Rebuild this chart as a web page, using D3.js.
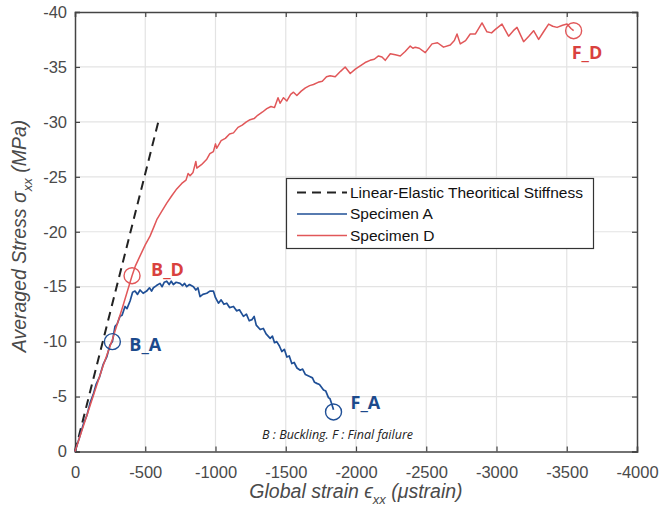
<!DOCTYPE html>
<html><head><meta charset="utf-8">
<script src="https://cdn.jsdelivr.net/npm/d3@7"></script>
<style>body{margin:0;background:#fff}</style>
</head><body>
<svg id="c" width="661" height="518"></svg>
<script>
const xTicks = [0,-500,-1000,-1500,-2000,-2500,-3000,-3500,-4000];
const yTicks = [0,-5,-10,-15,-20,-25,-30,-35,-40];
const linearElastic = [[0,0],[-593,-30]];
const specimenA = [[0,0],[-30,-1.2],[-60,-2.5],[-85,-3.3],[-107,-4.4],[-130,-5.2],[-150,-6.1],[-175,-6.8],[-200,-7.9],[-226,-8.6],[-249,-9.7],[-266,-10.0],[-285,-11.4],[-300,-11.6],[-320,-12.3],[-335,-12.4],[-356,-13.2],[-370,-13.0],[-392,-13.7],[-410,-14.5],[-427,-14.6],[-445,-14.3],[-463,-14.7],[-485,-14.4],[-510,-14.6],[-530,-14.9],[-545,-14.6],[-558,-14.9],[-580,-15.1],[-605,-15.3],[-620,-15.0],[-635,-15.4],[-653,-15.5],[-670,-15.2],[-685,-15.5],[-700,-15.2],[-720,-15.4],[-748,-15.3],[-765,-15.1],[-780,-15.3],[-795,-15.0],[-815,-15.2],[-843,-15.0],[-860,-14.7],[-875,-14.9],[-890,-14.1],[-910,-14.3],[-938,-14.4],[-960,-14.6],[-985,-14.6],[-1000,-14.0],[-1021,-13.5],[-1040,-13.8],[-1060,-13.4],[-1080,-13.5],[-1100,-13.1],[-1128,-13.2],[-1150,-12.8],[-1170,-12.9],[-1199,-12.3],[-1220,-12.5],[-1240,-11.9],[-1259,-12.0],[-1275,-12.3],[-1290,-11.5],[-1318,-11.1],[-1340,-11.2],[-1360,-10.7],[-1389,-10.3],[-1405,-10.5],[-1420,-9.9],[-1436,-10.0],[-1455,-9.6],[-1472,-9.1],[-1490,-9.3],[-1508,-8.6],[-1525,-8.7],[-1543,-8.0],[-1560,-8.1],[-1580,-7.6],[-1603,-7.4],[-1620,-7.5],[-1640,-7.0],[-1674,-6.8],[-1690,-6.7],[-1705,-6.3],[-1721,-6.2],[-1740,-6.1],[-1769,-5.6],[-1785,-5.5],[-1804,-4.9],[-1815,-4.8],[-1828,-4.3],[-1840,-3.8]];
const specimenD = [[0,0],[-100,-3.9],[-200,-7.8],[-266,-10.2],[-340,-13.2],[-406,-16.0],[-430,-16.9],[-463,-17.8],[-500,-18.8],[-534,-19.6],[-560,-20.4],[-582,-21.1],[-615,-21.8],[-653,-22.6],[-690,-23.3],[-724,-23.9],[-760,-24.4],[-790,-24.7],[-805,-25.3],[-819,-25.1],[-840,-25.4],[-860,-26.4],[-867,-25.8],[-900,-26.1],[-938,-26.6],[-960,-27.1],[-985,-27.3],[-1000,-28.0],[-1009,-27.6],[-1040,-28.3],[-1070,-28.5],[-1100,-28.9],[-1128,-29.0],[-1160,-29.5],[-1190,-29.7],[-1220,-30.0],[-1246,-30.2],[-1275,-30.3],[-1300,-30.6],[-1335,-30.9],[-1365,-31.2],[-1395,-31.4],[-1420,-31.3],[-1445,-32.2],[-1460,-31.7],[-1484,-32.2],[-1508,-31.9],[-1535,-32.5],[-1555,-32.7],[-1579,-32.4],[-1610,-32.8],[-1640,-33.1],[-1670,-33.3],[-1697,-33.4],[-1730,-33.6],[-1760,-33.7],[-1790,-34.1],[-1816,-34.2],[-1852,-34.1],[-1890,-34.6],[-1923,-35.0],[-1959,-34.4],[-1995,-34.8],[-2030,-35.1],[-2065,-35.4],[-2100,-35.6],[-2130,-35.7],[-2160,-36.0],[-2185,-35.9],[-2208,-35.6],[-2244,-36.2],[-2280,-36.1],[-2315,-36.0],[-2350,-36.4],[-2386,-36.9],[-2405,-36.7],[-2422,-36.8],[-2450,-36.7],[-2493,-36.3],[-2541,-37.1],[-2580,-37.2],[-2623,-36.8],[-2671,-37.0],[-2700,-37.4],[-2719,-38.0],[-2742,-37.1],[-2780,-37.4],[-2813,-38.0],[-2850,-38.0],[-2897,-39.0],[-2932,-38.2],[-2965,-38.1],[-2990,-38.4],[-3039,-38.9],[-3086,-37.8],[-3120,-38.3],[-3146,-38.6],[-3193,-37.3],[-3230,-37.8],[-3264,-38.3],[-3300,-37.5],[-3335,-38.2],[-3371,-38.9],[-3400,-38.7],[-3431,-38.6],[-3470,-38.8],[-3502,-38.9],[-3530,-38.5],[-3549,-38.3]];
const markersD = [{x:-406,y:-16.0,label:"B_D"},{x:-3549,y:-38.3,label:"F_D"}];
const markersA = [{x:-266,y:-10.0,label:"B_A"},{x:-1840,y:-3.6,label:"F_A"}];
const legendLabels = ["Linear-Elastic Theoritical Stiffness","Specimen A","Specimen D"];

const svg = d3.select("#c");
const L=75,R=637,T=12,B=451.5;
const x = d3.scaleLinear().domain([0,-4000]).range([L,R]);
const y = d3.scaleLinear().domain([0,-40]).range([B,T]);
const red="#e15759", redT="#d9413e", blue="#1f4f96", blueT="#1c4a8c";
const tickCol="#4a4a4a";
const FF="Liberation Sans, Arial, sans-serif";

// grid
svg.append("g").selectAll("line").data(xTicks.slice(1,-1)).join("line")
  .attr("x1",d=>x(d)).attr("x2",d=>x(d)).attr("y1",T).attr("y2",B)
  .attr("stroke","#e3e3e3").attr("stroke-width",1.2);
svg.append("g").selectAll("line").data(yTicks.slice(1,-1)).join("line")
  .attr("y1",d=>y(d)).attr("y2",d=>y(d)).attr("x1",L).attr("x2",R)
  .attr("stroke","#e3e3e3").attr("stroke-width",1.2);

// axes
const fmt = d=>String(d);
const ax = svg.append("g").attr("transform",`translate(0,${B})`)
  .call(d3.axisBottom(x).tickValues(xTicks).tickSize(-5).tickPadding(15).tickFormat(fmt));
const ay = svg.append("g").attr("transform",`translate(${L},0)`)
  .call(d3.axisLeft(y).tickValues(yTicks).tickSize(-5).tickPadding(8).tickFormat(fmt));
const axT = svg.append("g").attr("transform",`translate(0,${T})`)
  .call(d3.axisTop(x).tickValues(xTicks).tickSize(-5).tickFormat(""));
const ayR = svg.append("g").attr("transform",`translate(${R},0)`)
  .call(d3.axisRight(y).tickValues(yTicks).tickSize(-5).tickFormat(""));
[ax,ay,axT,ayR].forEach(g=>{
  g.select(".domain").attr("stroke","#444").attr("stroke-width",1.5);
  g.selectAll(".tick line").attr("stroke","#444").attr("stroke-width",1.2);
  g.selectAll("text").attr("font-family",FF).attr("font-size",16.5).attr("fill",tickCol);
});

// lines
const line = d3.line().x(d=>x(d[0])).y(d=>y(d[1]));
svg.append("path").datum(linearElastic).attr("d",line).attr("fill","none")
  .attr("stroke","#222").attr("stroke-width",2).attr("stroke-dasharray","9,6");
svg.append("path").datum(specimenA).attr("d",line).attr("fill","none")
  .attr("stroke",blue).attr("stroke-width",1.7).attr("stroke-linejoin","round");
svg.append("path").datum(specimenD).attr("d",line).attr("fill","none")
  .attr("stroke",red).attr("stroke-width",1.5).attr("stroke-linejoin","round");

// markers
function markers(data,col,tcol,offs){
  svg.append("g").selectAll("circle").data(data).join("circle")
    .attr("cx",d=>x(d.x)).attr("cy",d=>y(d.y)).attr("r",8)
    .attr("fill","none").attr("stroke",col).attr("stroke-width",1.4);
  svg.append("g").selectAll("text").data(data).join("text")
    .attr("x",(d,i)=>x(d.x)+offs[i][0]).attr("y",(d,i)=>y(d.y)+offs[i][1])
    .attr("font-family","Open Sans, sans-serif").attr("font-weight","bold").attr("font-size",18)
    .attr("fill",tcol).text(d=>d.label);
}
markers(markersD,red,redT,[[19,0],[-2,28]]);
markers(markersA,blue,blueT,[[17,9],[17,-3]]);

svg.append("text").attr("x",262).attr("y",439).attr("font-family","Open Sans, sans-serif")
  .attr("font-style","italic").attr("font-size",12.5).attr("fill","#222")
  .text("B : Buckling. F : Final failure");

// legend
const lg = svg.append("g");
lg.append("rect").attr("x",286.5).attr("y",178.5).attr("width",307).attr("height",70)
  .attr("fill","#fff").attr("stroke","#333").attr("stroke-width",1.2);
const lstyles=[{c:"#222",d:"9,6",w:2},{c:blue,d:null,w:1.7},{c:red,d:null,w:1.5}];
legendLabels.forEach((t,i)=>{
  const yy=192.5+i*21.5;
  lg.append("line").attr("x1",297).attr("x2",347).attr("y1",yy).attr("y2",yy)
    .attr("stroke",lstyles[i].c).attr("stroke-width",lstyles[i].w).attr("stroke-dasharray",lstyles[i].d);
  lg.append("text").attr("x",350).attr("y",yy+5).attr("font-family",FF)
    .attr("font-size",15.5).attr("fill","#111").text(t);
});

// axis titles
const xt = svg.append("text").attr("x",356).attr("y",498).attr("text-anchor","middle")
  .attr("font-family",FF).attr("font-style","italic")
  .attr("font-size",19.5).attr("fill","#4a4a4a");
xt.append("tspan").text("Global strain \u03F5");
xt.append("tspan").attr("font-size",13).attr("dy",6).text("xx");
xt.append("tspan").attr("dy",-6).text(" (\u03BCstrain)");
const yt = svg.append("text").attr("transform","translate(26,236) rotate(-90)").attr("text-anchor","middle")
  .attr("font-family",FF).attr("font-style","italic")
  .attr("font-size",19.5).attr("fill","#4a4a4a");
yt.append("tspan").text("Averaged Stress \u03C3");
yt.append("tspan").attr("font-size",13).attr("dy",6).text("xx");
yt.append("tspan").attr("dy",-6).text(" (MPa)");
</script>
</body></html>
